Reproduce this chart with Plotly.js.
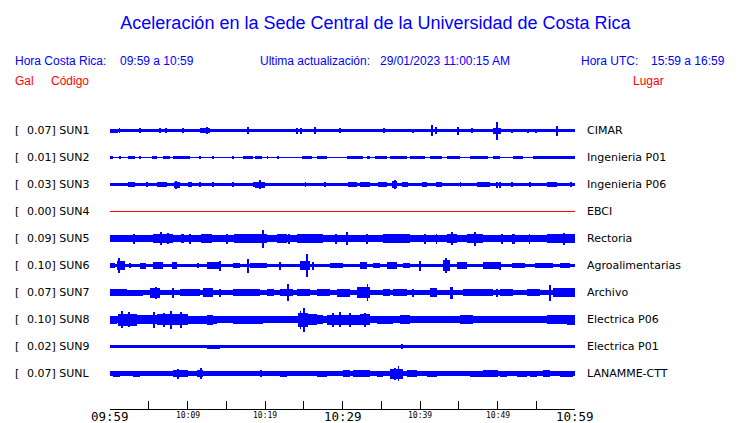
<!DOCTYPE html>
<html><head><meta charset="utf-8">
<script src="https://cdn.plot.ly/plotly-3.0.1.min.js"></script>
<style>html,body{margin:0;padding:0;background:#fff}#chart{width:740px;height:423px}</style>
</head><body><div id="chart"></div>
<script>
// ---- data ----
const codes = ["SUN1","SUN2","SUN3","SUN4","SUN5","SUN6","SUN7","SUN8","SUN9","SUNL"];
const gals = ["0.07","0.01","0.03","0.00","0.09","0.10","0.07","0.10","0.02","0.07"];
const places = ["CIMAR","Ingenieria P01","Ingenieria P06","EBCI","Rectoria","Agroalimentarias","Archivo","Electrica P06","Electrica P01","LANAMME-CTT"];
// minutes after 09:59 for ticks, and their labels
const tickMinutes = [0,5,10,15,20,25,30,35,40,45,50,55,60];
const tickLabels = ["09:59","","10:09","","10:19","","10:29","","10:39","","10:49","","10:59"];
const tickMajor = [true,false,false,false,false,false,true,false,false,false,false,false,true];
// background half-amplitude of each trace (relative units, 27 = trace spacing)
const baseAmp = [1.6,0.5,1.7,0,3.6,1.8,2.5,3.2,1.6,2.1];
// bursts: [start minute, end minute, half-amplitude]
const sun1Ev = [[0,1,2],[1.1,1.35,2.5],[3.8,4.05,2.5],[6.3,6.55,2.5],[7.1,7.35,2.5],[9.3,9.55,2.5],[11.6,12.9,2.1],[12.4,12.7,3.7],[17.7,17.95,3.7],[24.0,24.25,3],[24.55,24.8,3],[26.3,26.55,3.3],[29.6,29.85,2.2],[35.2,35.45,2.5],[39.0,39.25,2],[41.4,41.7,5.3],[41.9,42.15,3.5],[44.8,45.05,4],[46.6,46.85,2.5],[49.4,50.4,3],[49.8,50.05,9],[51.8,52.05,2],[53.8,54.05,2],[54.9,55.15,2],[57.5,57.75,5]];
const sun2Ev = [[0,0.4,1.4],[1.2,1.45,1.4],[2.3,3.2,1.4],[3.8,4.05,1.4],[5.4,6.0,1.4],[6.8,7.7,1.4],[8.1,10.3,1.4],[11.5,11.75,1.4],[13.2,13.45,1.4],[15.8,16.05,1.4],[17.2,18.5,1.4],[18.7,19.6,1.4],[20.2,20.45,1.4],[21.6,21.85,1.4],[24.8,26.0,1.4],[26.7,28.0,1.4],[30.6,32.6,1.4],[33.2,33.5,1.4],[34.2,35.7,1.4],[36.1,38.3,1.4],[38.7,40.6,1.4],[41.3,42.8,1.4],[43.5,45.2,1.4],[46.5,48.8,1.4],[49.4,50.3,1.4],[52.0,53.3,1.4],[54.6,60,1.4]];
const sun3Ev = [[2.3,3.2,2.8],[4.6,4.85,2.5],[6.0,7.3,2.4],[8.2,9.0,3],[8.4,8.65,4],[10.0,10.6,2.8],[11.5,11.75,2.5],[13.2,13.45,2.5],[15.8,16.05,2.5],[18.4,18.65,2.5],[18.7,20.0,3],[19.2,19.45,4.5],[25.1,25.35,2.5],[27.6,27.85,2.5],[30.7,31.9,2.8],[32.3,33.5,2.4],[34.6,35.7,2.8],[36.4,37.0,3.5],[36.6,36.85,4.3],[37.7,38.5,2.8],[40.3,40.9,2.5],[42.0,42.8,2.8],[45.1,45.35,2.5],[47.4,49.0,2.8],[49.8,50.05,3],[50.2,50.45,3],[51.8,52.05,2.5],[54.1,54.35,2.5],[56.4,57.7,2.8],[59.3,59.55,2.5]];
const sun4Ev = [];
const sun5Ev = [[3.0,3.25,5],[5.5,8.1,4.5],[6.5,6.75,6.5],[7.4,7.65,5.5],[9.2,9.5,4.5],[10.2,10.45,5],[11.8,13.2,4.2],[15.0,15.25,5],[16.0,20.3,4.3],[19.6,19.85,9],[21.5,22.8,4.3],[23.0,23.25,5],[24.1,27.5,4.2],[29.0,29.25,5],[30.5,30.75,6.5],[33.0,33.25,5],[35.2,38.7,4.1],[40.5,40.75,5],[42.0,42.25,5],[43.5,44.8,4.6],[44.0,44.25,6.5],[46.0,48.1,4.8],[47.0,47.25,7],[50.5,50.75,5],[51.9,52.2,5],[54.0,54.25,5],[56.4,60,4.7],[58.5,58.75,6]];
const sun6Ev = [[0,0.6,2.5],[0.9,1.9,4.2],[1.0,1.25,7.5],[2.5,2.75,2.5],[3.9,4.7,3],[5.6,6.9,3.7],[8.0,8.6,3.8],[11.2,11.45,2.5],[12.5,14.2,3.7],[14.1,14.35,5],[15.9,16.8,2.5],[17.7,17.95,7],[18.0,20.3,2.8],[21.8,22.05,4],[24.5,25.8,4.5],[25.3,25.55,11.5],[26.1,26.35,4],[28.4,30.1,2.8],[32.3,33.2,3.3],[33.9,34.8,2.8],[35.7,37.0,3.7],[37.8,38.7,2.8],[39.9,40.15,5],[43.0,43.9,5.5],[43.2,43.45,7.3],[44.8,46.1,3.3],[48.1,50.3,3.2],[50.2,50.45,4],[51.9,53.6,2.8],[54.9,57.1,2.8],[58.0,59.4,2.5]];
const sun7Ev = [[0,2.2,3.7],[2.2,4.3,3],[5.2,6.5,5],[5.8,6.05,6],[8.0,8.25,5],[9.0,11.6,3.7],[12.0,13.3,4.5],[14.1,14.35,4],[15.9,19.4,3.7],[20.3,21.2,3.3],[21.9,23.6,3.7],[22.9,23.15,8.5],[24.1,25.8,3.7],[26.7,28.4,3.7],[29.3,31.0,4],[31.9,33.5,5.3],[33.1,33.35,8.5],[35.2,36.1,3.3],[36.5,38.3,3.3],[39.0,39.25,4],[41.3,42.2,4.2],[43.9,44.3,6],[45.5,48.1,3.7],[47.7,49.4,3.7],[49.8,50.05,4],[50.3,52.0,3.7],[53.8,55.5,3.7],[56.7,56.95,8],[57.2,60,4.2]];
const sun8Ev = [[0,0.9,4],[1.0,3.5,6],[1.4,1.65,8.5],[2.3,2.55,7.5],[3.5,6.0,4.5],[5.5,5.75,8],[6.0,10.0,5.2],[6.8,7.05,7],[7.7,7.95,9],[9.0,9.25,8],[10.0,13.8,4],[12.5,13.3,5],[15.9,19.7,4],[20.6,23.6,3.8],[24.3,25.5,7],[24.5,24.7,9],[24.9,25.15,12],[25.5,26.7,5.5],[26.7,27.5,4.5],[28.0,32.3,5],[28.6,28.85,7],[29.5,29.75,7.5],[30.8,31.05,7],[32.3,33.5,5.5],[32.8,33.05,7],[34.4,36.5,4],[37.4,38.7,4.3],[38.7,42.2,3.6],[45.2,46.8,4.3],[46.8,52.0,3.6],[52.0,56.4,3.9],[56.4,59.0,4.2],[59.0,60,5]];
const sun9Ev = [[12.5,14.2,2],[37.6,37.85,2.6]];
const sunlEv = [[0.4,1.3,3],[3.0,3.9,3],[4.8,6.0,2.6],[8.1,10.0,3.6],[8.7,8.95,5],[11.2,12.0,3.6],[11.6,11.85,5.5],[12.5,14.2,2.8],[15.9,19.4,2.8],[19.3,19.55,3.5],[21.9,22.8,3],[26.7,28.0,3],[30.1,31.0,3.3],[31.4,33.5,3.3],[34.4,35.2,3],[36.1,37.8,5],[37.1,37.35,7.5],[36.6,36.85,6],[38.3,39.6,3.3],[40.9,42.2,3],[46.5,48.1,3],[48.1,50.0,3.3],[50.3,51.2,3],[52.5,53.8,3],[54.2,55.1,3],[55.9,56.8,3.8],[58.0,59.7,3]];
const events = [sun1Ev,sun2Ev,sun3Ev,sun4Ev,sun5Ev,sun6Ev,sun7Ev,sun8Ev,sun9Ev,sunlEv];

// ---- build ----
const BLUE = "#0000FF", RED = "#FF0000";
const ROW = 27; // amplitude units per trace spacing
const SPAN = 60;
const L = 110, R = 575, T = 115, B = 409; // plot box px
const px = v => (v - L) / (R - L);
const py = v => (B - v) / (B - T);

const traces = [];
codes.forEach((c, i) => {
  const off = -i;
  if (baseAmp[i] === 0) {
    traces.push({type:"scatter", mode:"lines", x:[0,SPAN], y:[off,off],
      line:{color:RED, width:1}, hoverinfo:"skip", showlegend:false});
    return;
  }
  const ev = [[0,SPAN,baseAmp[i]]].concat(events[i]);
  traces.push({
    type:"bar",
    x: ev.map(e => (e[0]+e[1])/2),
    width: ev.map(e => e[1]-e[0]),
    base: ev.map(e => off - e[2]/ROW),
    y: ev.map(e => 2*e[2]/ROW),
    marker:{color:BLUE, line:{width:0}},
    hoverinfo:"skip", showlegend:false
  });
});

const ann = [];
const F = "Liberation Sans, Arial, sans-serif";
const D = "DejaVu Sans, sans-serif";
// header rows
ann.push({text:"Hora Costa Rica:", x:px(13), y:py(61), font:{family:F,size:12,color:BLUE}});
ann.push({text:"09:59 a 10:59", x:px(118), y:py(61), font:{family:F,size:12,color:BLUE}});
ann.push({text:"Ultima actualización:", x:px(258), y:py(61), font:{family:F,size:12,color:BLUE}});
ann.push({text:"29/01/2023 11:00:15 AM", x:px(378), y:py(61), font:{family:F,size:12,color:BLUE}});
ann.push({text:"Hora UTC:", x:px(579), y:py(61), font:{family:F,size:12,color:BLUE}});
ann.push({text:"15:59 a 16:59", x:px(649), y:py(61), font:{family:F,size:12,color:BLUE}});
ann.push({text:"Gal", x:px(13), y:py(81), font:{family:F,size:12,color:RED}});
ann.push({text:"Código", x:px(49), y:py(81), font:{family:F,size:12,color:RED}});
ann.push({text:"Lugar", x:px(631), y:py(81), font:{family:F,size:12,color:RED}});
ann.forEach(a => { a.xref="paper"; a.yref="paper"; a.xanchor="left"; a.yanchor="middle"; a.showarrow=false; });

codes.forEach((c, i) => {
  ann.push({text:"[", xref:"paper", yref:"y", x:px(13), y:-i, xanchor:"left", yanchor:"middle", showarrow:false, font:{family:D,size:11,color:"#000"}});
  ann.push({text:gals[i] + "] " + c, xref:"paper", yref:"y", x:px(25), y:-i, xanchor:"left", yanchor:"middle", showarrow:false, font:{family:D,size:11,color:"#000"}});
  ann.push({text:places[i], xref:"paper", yref:"y", x:px(585), y:-i, xanchor:"left", yanchor:"middle", showarrow:false, font:{family:D,size:11,color:"#000"}});
});
tickMinutes.forEach((m, k) => {
  if (!tickLabels[k]) return;
  ann.push({text:tickLabels[k], xref:"x", yref:"paper", x:m, y:py(tickMajor[k]?416:415), xanchor:"center", yanchor:"middle", showarrow:false,
    font:{family:"DejaVu Sans Mono, monospace", size: tickMajor[k]?12.5:8, color:"#000"}});
});

const layout = {
  width:740, height:423,
  margin:{l:L, r:740-R, t:T, b:423-B, pad:0},
  paper_bgcolor:"#fff", plot_bgcolor:"#fff",
  barmode:"overlay", bargap:0,
  title:{text:"Aceleración en la Sede Central de la Universidad de Costa Rica", xref:"container", yref:"container",
    x:375.5/740, xanchor:"center", y:1-22.5/423, yanchor:"middle", font:{family:F, size:18, color:BLUE}},
  xaxis:{range:[0,SPAN], tickvals:tickMinutes, ticks:"inside", ticklen:8, tickwidth:1, tickcolor:"#000",
    showticklabels:false, showline:true, linecolor:"#000", linewidth:1, showgrid:false, zeroline:false, fixedrange:true},
  yaxis:{range:[-(B-130.5)/ROW, (130.5-T)/ROW], visible:false, showgrid:false, zeroline:false, fixedrange:true},
  annotations: ann,
  showlegend:false
};
Plotly.newPlot("chart", traces, layout, {staticPlot:true, displayModeBar:false});
</script></body></html>
